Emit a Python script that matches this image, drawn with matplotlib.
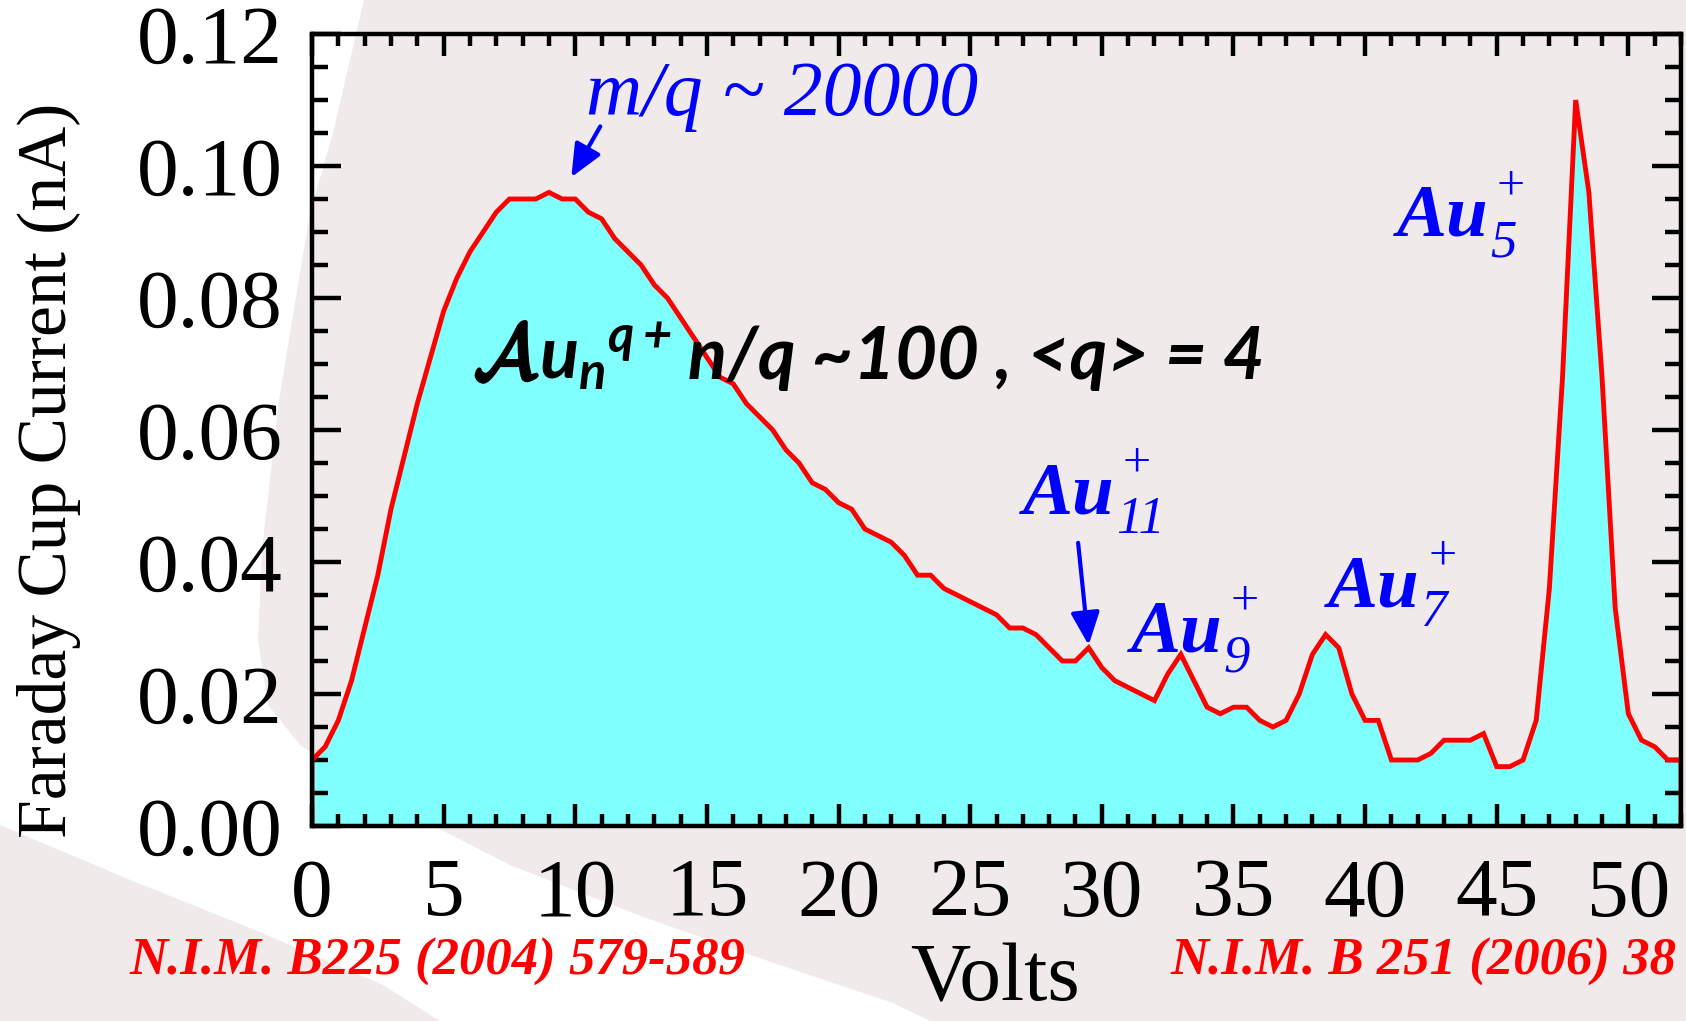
import numpy as np
import matplotlib
matplotlib.use("Agg")
import matplotlib.pyplot as plt
from matplotlib.patches import Polygon
from matplotlib.ticker import MultipleLocator, FormatStrFormatter
from matplotlib.offsetbox import TextArea, HPacker, AnnotationBbox
import matplotlib.patheffects as pe

# ---------------- data ----------------
volts = [0, 0.5, 1, 1.5, 2, 2.5, 3, 3.5, 4, 4.5, 5, 5.5, 6, 6.5, 7, 7.5, 8, 8.5, 9, 9.5,
         10, 10.5, 11, 11.5, 12, 12.5, 13, 13.5, 14, 14.5, 15, 15.5, 16, 16.5, 17, 17.5,
         18, 18.5, 19, 19.5, 20, 20.5, 21, 21.5, 22, 22.5, 23, 23.5, 24, 24.5, 25, 25.5,
         26, 26.5, 27, 27.5, 28, 28.5, 29, 29.5, 30, 30.5, 31, 31.5, 32, 32.5, 33, 33.5,
         34, 34.5, 35, 35.5, 36, 36.5, 37, 37.5, 38, 38.5, 39, 39.5, 40, 40.5, 41, 41.5,
         42, 42.5, 43, 43.5, 44, 44.5, 45, 45.5, 46, 46.5, 47, 47.5, 48, 48.5, 49, 49.5,
         50, 50.5, 51, 51.5, 52]
current = [0.010, 0.012, 0.016, 0.022, 0.030, 0.038, 0.048, 0.056, 0.064, 0.071,
           0.078, 0.083, 0.087, 0.090, 0.093, 0.095, 0.095, 0.095, 0.096, 0.095,
           0.095, 0.093, 0.092, 0.089, 0.087, 0.085, 0.082, 0.080, 0.077, 0.074,
           0.071, 0.068, 0.067, 0.064, 0.062, 0.060, 0.057, 0.055, 0.052, 0.051,
           0.049, 0.048, 0.045, 0.044, 0.043, 0.041, 0.038, 0.038, 0.036, 0.035,
           0.034, 0.033, 0.032, 0.030, 0.030, 0.029, 0.027, 0.025, 0.025, 0.027,
           0.024, 0.022, 0.021, 0.020, 0.019, 0.023, 0.026, 0.022, 0.018, 0.017,
           0.018, 0.018, 0.016, 0.015, 0.016, 0.020, 0.026, 0.029, 0.027, 0.020,
           0.016, 0.016, 0.010, 0.010, 0.010, 0.011, 0.013, 0.013, 0.013, 0.014,
           0.009, 0.009, 0.010, 0.016, 0.036, 0.068, 0.110, 0.096, 0.068, 0.033,
           0.017, 0.013, 0.012, 0.010, 0.010]

x_ticks = [0, 5, 10, 15, 20, 25, 30, 35, 40, 45, 50]
y_ticks = [0.00, 0.02, 0.04, 0.06, 0.08, 0.10, 0.12]

# peak labels: (cluster size subscript, x, y of "Au" baseline)
peak_subs = ["11", "9", "7", "5"]
peak_x = [27.0, 31.1, 38.6, 41.2]
peak_y = [0.0474, 0.0264, 0.0333, 0.0894]

# ---------------- style ----------------
plt.rcParams["font.family"] = ["Liberation Serif", "DejaVu Serif"]
plt.rcParams["mathtext.rm"] = "Lato:italic:bold"
plt.rcParams["mathtext.it"] = "Lato:italic:bold"
plt.rcParams["mathtext.bf"] = "Lato:bold"

BLUE = "#0000ff"
RED = "#ff0000"

W, H = 1686, 1021
fig = plt.figure(figsize=(W / 100, H / 100), dpi=100)
fig.patch.set_facecolor("#f0eaeb")

# white swoosh in the background (decoration)
sw = [(0, 0), (364, 0), (333, 133), (310, 213), (279, 400), (262, 550), (258, 640),
      (268, 705), (300, 745), (383, 800), (510, 865), (638, 915), (765, 960),
      (893, 1003), (930, 1021), (440, 1021), (383, 985), (255, 930), (128, 879),
      (0, 825)]
fig.add_artist(Polygon([(px / W, 1 - py / H) for px, py in sw], closed=True,
                       transform=fig.transFigure, facecolor="white",
                       edgecolor="none", zorder=-10))

ax = fig.add_axes([312 / W, 1 - 826 / H, (1681 - 312) / W, (826 - 34) / H])
ax.set_facecolor("none")

v = np.asarray(volts)
c = np.asarray(current)
ax.fill_between(v, c, 0, color="#80ffff", lw=0, zorder=1)
ax.plot(np.r_[v[0], v, v[-1]], np.r_[0, c, 0], color=RED, lw=3.5,
        zorder=2, solid_joinstyle="miter")

ax.set_xlim(0, 52)
ax.set_ylim(0, 0.12)
ax.set_xticks(x_ticks)
ax.set_yticks(y_ticks)
ax.xaxis.set_minor_locator(MultipleLocator(1))
ax.yaxis.set_minor_locator(MultipleLocator(0.005))
ax.yaxis.set_major_formatter(FormatStrFormatter("%.2f"))

ax.tick_params(axis="both", which="both", direction="in", top=True, right=True,
               colors="black", width=3.2)
ax.tick_params(axis="x", which="major", length=16, pad=23, labelsize=60)
ax.tick_params(axis="x", which="minor", length=8.5)
ax.tick_params(axis="y", which="major", length=21, pad=21, labelsize=60)
ax.tick_params(axis="y", which="minor", length=11.5)
for s in ax.spines.values():
    s.set_linewidth(3.2)
    s.set_zorder(5)

# axis titles
fig.text(49 / W, 1 - 470 / H, "Faraday Cup Current (nA)", rotation=90,
         ha="center", va="center", fontsize=50)
fig.text(995 / W, 1 - 1000 / H, "Volts", ha="center", va="baseline", fontsize=60)

# references
fig.text(129 / W, 1 - 975 / H, "N.I.M. B225 (2004) 579-589", color=RED,
         fontsize=38, fontweight="bold", fontstyle="italic", ha="left", va="baseline")
fig.text(1170 / W, 1 - 975 / H, "N.I.M. B 251 (2006) 38", color=RED,
         fontsize=38, fontweight="bold", fontstyle="italic", ha="left", va="baseline")

# m/q annotation
ax.text(10.4, 0.1077, "m/q ~ 20000", color=BLUE, fontsize=56,
        fontstyle="italic", ha="left", va="baseline")
arrow_kw = dict(arrowstyle="-|>,head_length=0.5,head_width=0.22", color=BLUE,
                lw=3, mutation_scale=40, shrinkA=0, shrinkB=0)
ax.annotate("", xy=(9.85, 0.0983), xytext=(10.95, 0.106), arrowprops=arrow_kw)
ax.annotate("", xy=(29.5, 0.0274), xytext=(29.1, 0.0429), arrowprops=arrow_kw)

# peak labels: "Au" with stacked "+" (upper) and cluster size (lower)
for sub, px, py in zip(peak_subs, peak_x, peak_y):
    t = ax.text(px, py, "Au", color=BLUE, fontsize=54, fontweight="bold",
                fontstyle="italic", ha="left", va="baseline", zorder=6)
    ax.annotate("+", xy=(1, 0), xycoords=t, xytext=(6, 38),
                textcoords="offset points", color=BLUE, fontsize=36,
                ha="left", va="baseline", zorder=6)
    ax.annotate(sub, xy=(1, 0), xycoords=t, xytext=(1, -3),
                textcoords="offset points", color=BLUE, fontsize=38,
                fontstyle="italic", ha="left", va="baseline", zorder=6)

# black cluster label
fs = 52
partA = TextArea(r"$\mathcal{A}$",
                 textprops=dict(fontsize=fs * 1.08, math_fontfamily="cm", color="black",
                                path_effects=[pe.withStroke(linewidth=2.5,
                                                            foreground="black")]))
partB = TextArea(r"$u_n{}^{q+}$",
                 textprops=dict(fontsize=fs, math_fontfamily="custom", color="black"))
partC = TextArea(" n/q ~100 , <q> = 4",
                 textprops=dict(fontsize=fs, family="Lato", fontweight="bold",
                                fontstyle="italic", color="black"))
pack = HPacker(children=[partA, partB, partC], align="baseline", pad=0, sep=0)
ab = AnnotationBbox(pack, (6.16, 0.0652), xycoords="data", box_alignment=(0, 0),
                    frameon=False, pad=0, zorder=6)
ax.add_artist(ab)

fig.savefig("out.png", dpi=100, facecolor=fig.get_facecolor())
